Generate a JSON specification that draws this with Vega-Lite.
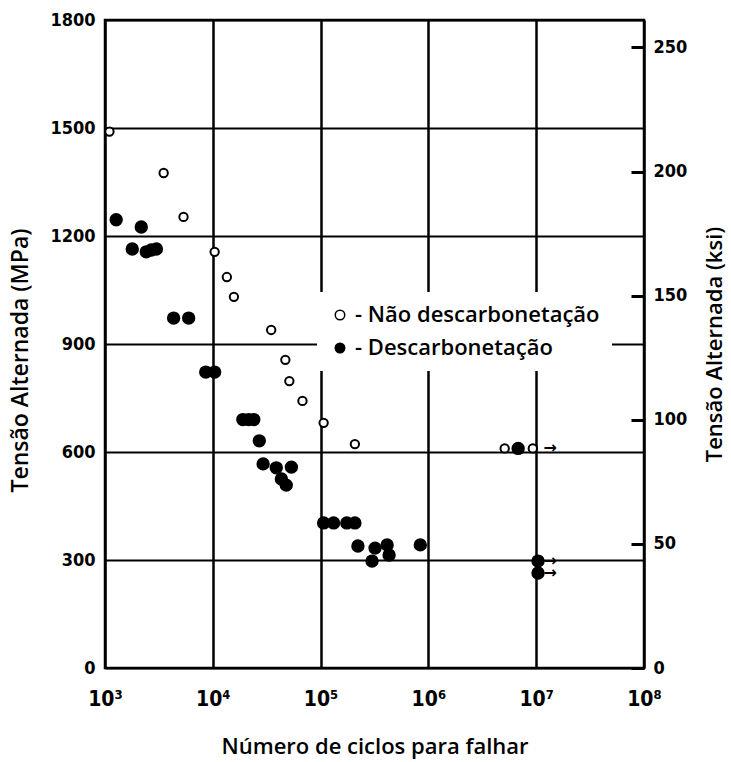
{
  "$schema": "https://vega.github.io/schema/vega-lite/v6.json",
  "autosize": {"type": "none"},
  "padding": {"left": 105, "top": 20, "right": 87, "bottom": 94},
  "width": 539,
  "height": 648,
  "background": "white",
  "config": {
    "view": {"stroke": "black", "strokeWidth": 2.5}
  },
  "datasets": {
    "pts": [
      {"N": 1100, "MPa": 1490, "serie": "- Não descarbonetação"},
      {"N": 3500, "MPa": 1375, "serie": "- Não descarbonetação"},
      {"N": 5350, "MPa": 1253, "serie": "- Não descarbonetação"},
      {"N": 10400, "MPa": 1156, "serie": "- Não descarbonetação"},
      {"N": 13500, "MPa": 1086, "serie": "- Não descarbonetação"},
      {"N": 15700, "MPa": 1031, "serie": "- Não descarbonetação"},
      {"N": 34800, "MPa": 939, "serie": "- Não descarbonetação"},
      {"N": 47100, "MPa": 856, "serie": "- Não descarbonetação"},
      {"N": 51300, "MPa": 797, "serie": "- Não descarbonetação"},
      {"N": 67900, "MPa": 742, "serie": "- Não descarbonetação"},
      {"N": 106700, "MPa": 681, "serie": "- Não descarbonetação"},
      {"N": 208000, "MPa": 622, "serie": "- Não descarbonetação"},
      {"N": 5100000, "MPa": 610, "serie": "- Não descarbonetação"},
      {"N": 9300000, "MPa": 610, "serie": "- Não descarbonetação"},
      {"N": 1270, "MPa": 1245, "serie": "- Descarbonetação"},
      {"N": 2170, "MPa": 1225, "serie": "- Descarbonetação"},
      {"N": 1790, "MPa": 1164, "serie": "- Descarbonetação"},
      {"N": 2415, "MPa": 1156, "serie": "- Descarbonetação"},
      {"N": 2690, "MPa": 1161, "serie": "- Descarbonetação"},
      {"N": 3000, "MPa": 1164, "serie": "- Descarbonetação"},
      {"N": 4330, "MPa": 972, "serie": "- Descarbonetação"},
      {"N": 5970, "MPa": 972, "serie": "- Descarbonetação"},
      {"N": 8600, "MPa": 822, "serie": "- Descarbonetação"},
      {"N": 10400, "MPa": 822, "serie": "- Descarbonetação"},
      {"N": 19000, "MPa": 690, "serie": "- Descarbonetação"},
      {"N": 21500, "MPa": 690, "serie": "- Descarbonetação"},
      {"N": 24000, "MPa": 690, "serie": "- Descarbonetação"},
      {"N": 27000, "MPa": 631, "serie": "- Descarbonetação"},
      {"N": 29300, "MPa": 567, "serie": "- Descarbonetação"},
      {"N": 38800, "MPa": 556, "serie": "- Descarbonetação"},
      {"N": 53600, "MPa": 558, "serie": "- Descarbonetação"},
      {"N": 43300, "MPa": 525, "serie": "- Descarbonetação"},
      {"N": 48000, "MPa": 508, "serie": "- Descarbonetação"},
      {"N": 106700, "MPa": 403, "serie": "- Descarbonetação"},
      {"N": 132000, "MPa": 403, "serie": "- Descarbonetação"},
      {"N": 175000, "MPa": 403, "serie": "- Descarbonetação"},
      {"N": 208000, "MPa": 403, "serie": "- Descarbonetação"},
      {"N": 222000, "MPa": 339, "serie": "- Descarbonetação"},
      {"N": 300000, "MPa": 297, "serie": "- Descarbonetação"},
      {"N": 320000, "MPa": 333, "serie": "- Descarbonetação"},
      {"N": 414000, "MPa": 342, "serie": "- Descarbonetação"},
      {"N": 432000, "MPa": 314, "serie": "- Descarbonetação"},
      {"N": 841000, "MPa": 342, "serie": "- Descarbonetação"},
      {"N": 6800000, "MPa": 610, "serie": "- Descarbonetação"},
      {"N": 10400000, "MPa": 297, "serie": "- Descarbonetação"},
      {"N": 10400000, "MPa": 264, "serie": "- Descarbonetação"}
    ],
    "arrows": [
      {"N": 13500000, "MPa": 610, "a": "→"},
      {"N": 13500000, "MPa": 297, "a": "→"},
      {"N": 13500000, "MPa": 264, "a": "→"}
    ]
  },
  "layer": [
    {
      "data": {"name": "pts"},
      "mark": {"type": "point", "filled": true, "stroke": "black", "strokeWidth": 2, "opacity": 1},
      "encoding": {
        "x": {
          "field": "N", "type": "quantitative",
          "scale": {"type": "log", "domain": [1000, 100000000], "nice": false},
          "axis": {
            "values": [1000, 10000, 100000, 1000000, 10000000, 100000000],
            "labelExpr": "'10' + ['⁰','¹','²','³','⁴','⁵','⁶','⁷','⁸'][round(log(datum.value)/LN10)]",
            "grid": true, "gridColor": "black", "gridWidth": 2.5, "gridOpacity": 1,
            "domain": false, "ticks": false,
            "labelFont": "'DejaVu Sans Condensed', 'Liberation Sans', sans-serif", "labelFontWeight": "bold", "labelFontSize": 21, "labelColor": "black",
            "labelPadding": 20, "labelFlush": false,
            "title": "Número de ciclos para falhar",
            "titleFont": "Open Sans", "titleFontWeight": 600, "titleFontSize": 22, "titleColor": "black",
            "titlePadding": 27
          }
        },
        "y": {
          "field": "MPa", "type": "quantitative",
          "scale": {"domain": [0, 1800], "nice": false},
          "axis": {
            "values": [0, 300, 600, 900, 1200, 1500, 1800],
            "format": "d",
            "grid": true, "gridColor": "black", "gridWidth": 2, "gridOpacity": 1,
            "domain": false, "ticks": false,
            "labelFont": "'DejaVu Sans Condensed', 'Liberation Sans', sans-serif", "labelFontWeight": "bold", "labelFontSize": 18, "labelColor": "black",
            "labelPadding": 10,
            "title": "Tensão Alternada (MPa)",
            "titleFont": "Open Sans", "titleFontWeight": 600, "titleFontSize": 23, "titleColor": "black",
            "titlePadding": 17,
            "titleY": 340
          }
        },
        "fill": {
          "field": "serie", "type": "nominal",
          "scale": {"domain": ["- Não descarbonetação", "- Descarbonetação"], "range": ["white", "black"]},
          "legend": {
            "title": null,
            "orient": "none", "legendX": 212, "legendY": 272,
            "fillColor": "white", "padding": 12,
            "symbolType": "circle", "symbolSize": 90, "symbolStrokeColor": "black", "symbolStrokeWidth": 1.5,
            "labelFont": "Open Sans", "labelFontWeight": 600, "labelFontSize": 22, "labelColor": "black",
            "labelLimit": 400, "rowPadding": 11, "labelOffset": 4
          }
        },
        "size": {
          "condition": {"test": "datum.serie == '- Descarbonetação'", "value": 130},
          "value": 70
        }
      }
    },
    {
      "data": {"name": "arrows"},
      "mark": {"type": "text", "font": "DejaVu Sans", "fontSize": 16, "fontWeight": "bold", "baseline": "middle", "align": "center", "color": "black"},
      "encoding": {
        "x": {"field": "N", "type": "quantitative", "scale": {"type": "log", "domain": [1000, 100000000], "nice": false}},
        "y": {"field": "MPa", "type": "quantitative", "scale": {"domain": [0, 1800], "nice": false}, "axis": null},
        "text": {"field": "a"}
      }
    },
    {
      "data": {"name": "arrows"},
      "mark": {"type": "point", "opacity": 0},
      "encoding": {
        "y": {
          "field": "MPa", "type": "quantitative",
          "scale": {"domain": [0, 1800], "nice": false},
          "axis": {
            "orient": "right",
            "zindex": 1,
            "values": [0, 344.738, 689.476, 1034.214, 1378.952, 1723.69],
            "labelExpr": "format(datum.value / 6.89476, '.0f')",
            "grid": false, "domain": false,
            "ticks": true, "tickSize": -13, "tickWidth": 3, "tickColor": "black", "tickOpacity": 1,
            "labelFont": "'DejaVu Sans Condensed', 'Liberation Sans', sans-serif", "labelFontWeight": "bold", "labelFontSize": 18, "labelColor": "black",
            "labelPadding": 22,
            "title": "Tensão Alternada (ksi)",
            "titleFont": "Open Sans", "titleFontWeight": 600, "titleFontSize": 22, "titleColor": "black",
            "titleAngle": 270,
            "titlePadding": 40
          }
        }
      }
    }
  ],
  "resolve": {"scale": {"y": "independent"}, "axis": {"y": "independent"}}
}
